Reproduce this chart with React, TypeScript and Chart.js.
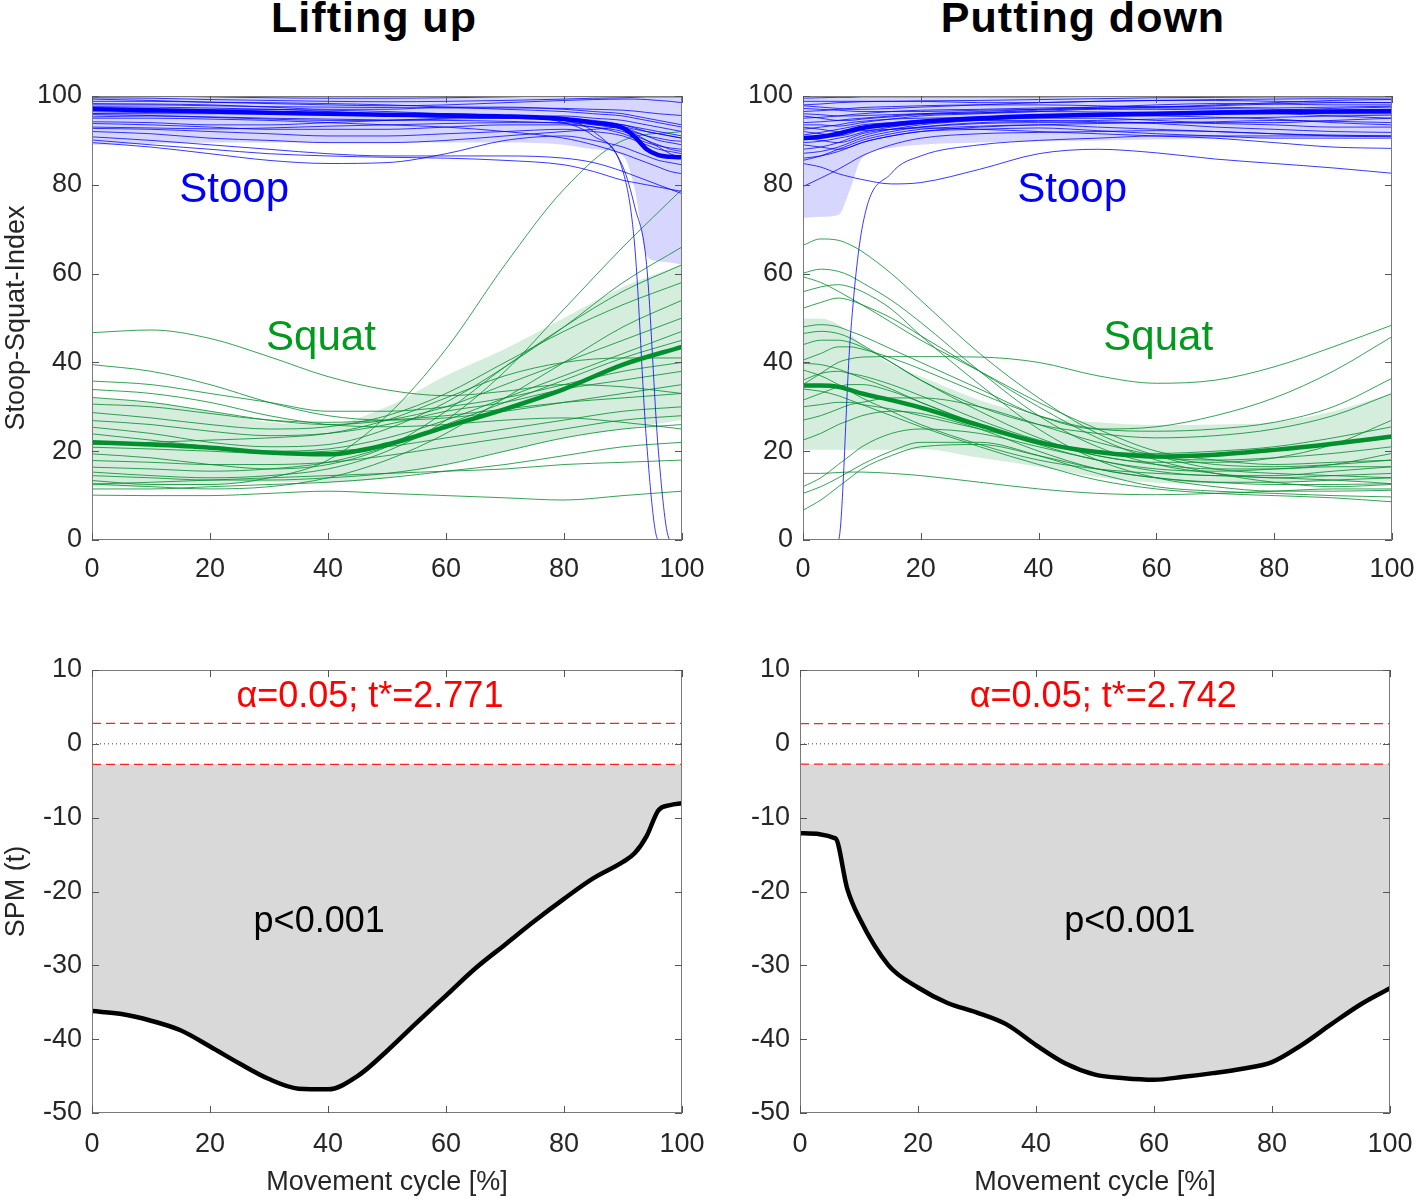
import React, { useEffect, useRef } from 'react';
import Chart from 'chart.js/auto';

const FONT = "'Liberation Sans', Arial, Helvetica, sans-serif";

// ---------------- Titles / labels ----------------
const panelTitles = ['Lifting up', 'Putting down'];
const yTitleTop = 'Stoop-Squat-Index';
const yTitleBottom = 'SPM (t)';
const xTitleBottom = 'Movement cycle [%]';

// ---------------- Lifting up: Stoop (blue) ----------------
const xLiftStoop = [0, 10, 20, 30, 40, 50, 60, 70, 80, 85, 90, 92, 94, 96, 98, 100];
const liftStoopMean = [97, 96.8, 96.5, 96.2, 96, 95.8, 95.6, 95.4, 94.8, 94, 92.8, 90.8, 88, 86.7, 86.3, 86.2];
const liftStoopUpper = [105, 104.4, 103.5, 102.9, 102.5, 102.1, 101.7, 101.3, 100.6, 100.5, 100.6, 103.6, 110, 110.4, 110.1, 110.4];
const liftStoopLower = [89, 89.2, 89.5, 89.5, 89.5, 89.5, 89.5, 89.5, 89, 88, 86.5, 79, 64, 62.8, 62.5, 62];
const liftStoopTrials = [
  [100, 100, 99.8, 99.6, 99.5, 99.5, 99.6, 99.8, 100, 100, 100, 100, 100, 100, 100, 100],
  [99.3, 99, 98.6, 98.3, 98, 97.8, 98, 98.5, 99, 99.2, 99.3, 99.3, 99.2, 99, 98.8, 98.5],
  [98.3, 98.2, 98, 97.5, 97, 97, 97.5, 97.5, 97, 96.5, 96, 95.5, 95, 94.5, 94, 93.5],
  [97.6, 97.5, 97.3, 97, 96.8, 96.5, 96, 95.5, 95, 94.5, 93.5, 92.8, 92, 91.5, 91, 90.5],
  [96.1, 96.3, 96.5, 96.3, 96, 95.8, 95.5, 95.3, 95, 94, 92.5, 91.5, 90, 89, 88, 87.5],
  [95.3, 95.5, 95.2, 94.8, 94.5, 94.5, 94.8, 95, 94.8, 94, 93, 92, 91, 90, 89.5, 89],
  [94.2, 94, 93.5, 93.5, 94, 94.5, 95, 95.5, 95.5, 95, 94.5, 94, 93.5, 93, 92.5, 92],
  [93.8, 93.5, 93, 92.5, 92.5, 92.5, 93, 93.5, 93.5, 93, 92, 91, 90, 88.5, 87, 86],
  [92.7, 92.5, 92, 91.5, 91, 91, 91.5, 92, 92.5, 92, 91, 90, 89, 88, 87.5, 87],
  [92, 91.5, 90.5, 90, 89.5, 89.5, 90, 91, 92, 92.5, 93, 92.5, 92, 91.5, 91, 90.5],
  [90.8, 90, 89, 88, 87, 86.5, 86.5, 86.5, 86, 85, 83, 82, 81, 80, 79, 78],
  [90.1, 89, 88, 87, 86.5, 86.2, 86, 85.5, 84.5, 83, 81, 80.5, 80, 79.5, 79, 78.5],
  [89.5, 88.5, 87, 85.5, 84.8, 85, 87, 90, 91, 90, 88.5, 87.5, 86.5, 85.5, 85, 84.5],
  [96.8, 97, 96.8, 96.5, 96, 95.5, 95.2, 95, 94.5, 94, 93.5, 93, 92.5, 92, 91.5, 91],
  [98.8, 98.8, 98.6, 98.5, 98.3, 98, 97.5, 97, 96.5, 96, 95.5, 95, 94.5, 94, 93.5, 93],
  [97, 97, 97, 97, 96.5, 96, 96, 95.5, 94, 91, 83, 66, 22, 0, 0, 0],
  [96, 96, 96, 96, 96, 95.5, 95.5, 95.5, 94.5, 92, 84, 75, 62, 20, 0, 0],
  [95, 95, 94.8, 94.5, 94, 93.5, 93, 92, 90.5, 89, 87, 86, 85, 84, 83, 82.5],
  [99.6, 99.5, 99.2, 99, 98.8, 98.7, 98.8, 99, 99.3, 99.5, 99.6, 99.7, 99.8, 99.8, 99.8, 99.8],
  [98, 98, 97.8, 97.6, 97.5, 97.4, 97.3, 97.3, 97.2, 97, 96.8, 96.6, 96.3, 96, 95.8, 95.6],
  [95.8, 95.6, 95.3, 95, 94.8, 94.6, 94.5, 94.3, 93.8, 93, 91.5, 90.5, 89.5, 88.8, 88.3, 88],
  [93, 92.8, 92.6, 92.8, 93.2, 93.5, 93.8, 94, 94, 93.5, 92.5, 91.8, 91, 90.5, 90, 89.8],
];

// ---------------- Lifting up: Squat (green) ----------------
const xLiftSquat = [0, 10, 20, 30, 40, 50, 60, 70, 80, 90, 100];
const liftSquatMean = [22, 21.5, 20.8, 19.7, 19.3, 21.5, 25.5, 29.5, 34, 39.5, 43.5];
const liftSquatUpper = [32, 31, 29, 26.5, 26, 30, 37, 43, 50, 57, 62];
const liftSquatLower = [12, 12, 12.5, 13, 13, 14, 17, 20, 23, 25, 27];
const liftSquatTrials = [
  [46.7, 47.3, 45.4, 41.3, 36.8, 33.8, 32.5, 33.5, 35, 34.5, 33],
  [13.4, 12.5, 12.5, 14, 18, 28, 43, 62, 79, 90, 92],
  [15.3, 14.5, 14, 14.5, 16, 20, 27, 38, 52, 66, 79],
  [25.4, 24, 22, 21, 21.5, 25, 31, 39, 48, 58, 66],
  [19.4, 18.5, 17, 16, 17, 21, 29, 39, 48, 56, 62],
  [28.7, 27.5, 26, 25, 25.5, 28, 33, 40, 47, 53, 58],
  [12.6, 12, 11.5, 12, 14, 18, 24, 32, 40, 48, 54],
  [32.1, 31, 29, 27, 26, 27, 30, 35, 40, 45, 50],
  [23.9, 22.5, 21, 20, 20.5, 23, 27, 32, 37, 42, 47],
  [16.4, 16, 15.5, 16, 17.5, 21, 26, 31, 36, 41, 45],
  [35.8, 35, 33, 31, 29, 29, 30, 32, 35, 38, 40],
  [26.9, 26, 24.5, 23.5, 24, 26, 29, 31, 34, 36, 38],
  [39.5, 38, 35, 31, 28, 27, 27.5, 29, 31, 33, 35],
  [30.6, 30, 28.5, 27, 26.5, 27, 28, 29.5, 31, 32, 33],
  [20.9, 20.5, 20, 19.5, 20, 21, 23, 25, 27, 29, 30],
  [17.9, 17.5, 17, 17, 17.5, 19, 21, 23, 25, 27, 28],
  [11.5, 11.5, 12, 12.5, 13, 14, 15.5, 17, 19, 21, 22],
  [10.1, 10, 10, 10.5, 11, 10.5, 10, 9.5, 9, 10, 11],
  [33.9, 33, 31, 28, 26, 25.5, 26, 27, 27.5, 26.5, 25],
  [12.6, 13, 13.5, 14, 14.5, 15, 15.5, 16, 17, 17.5, 18],
  [21.5, 22, 22.5, 23, 24, 27, 32, 37, 40, 41, 41],
  [14.5, 14, 13.5, 13.5, 14, 15, 17, 20, 23, 25, 26],
];

// ---------------- Putting down: Stoop (blue) ----------------
const xPut = [0, 3, 6, 8, 10, 15, 20, 30, 40, 50, 60, 70, 80, 90, 100];
const putStoopMean = [90.5, 90.8, 91.5, 92.2, 92.8, 93.6, 94.2, 95, 95.5, 95.8, 96, 96.2, 96.4, 96.5, 96.6];
const putStoopUpper = [108.5, 108.8, 109.8, 105.4, 100.6, 100.6, 100.6, 100.8, 101.2, 101.6, 101.8, 102.1, 102.3, 102.4, 102.4];
const putStoopLower = [72.5, 72.8, 73.2, 79, 86, 88.3, 89, 89.5, 89.8, 90, 90.2, 90.3, 90.5, 90.6, 90.8];
const putStoopTrials = [
  [99.5, 99.6, 99.7, 99.7, 99.8, 99.8, 99.8, 99.8, 99.8, 99.9, 99.9, 99.9, 99.9, 99.9, 99.9],
  [98, 98.2, 98.5, 98.6, 98.7, 98.8, 98.8, 98.5, 98.5, 98.8, 99, 99.2, 99.3, 99.4, 99.3],
  [96.5, 96.7, 97, 97.2, 97.4, 97.6, 97.8, 98, 98, 97.8, 97.5, 97.8, 98.2, 98.5, 98.5],
  [95, 95.2, 95.5, 95.8, 96, 96.5, 96.8, 97, 97.3, 97.5, 97.6, 97.5, 97.3, 97.5, 97.7],
  [93.5, 93.5, 93.2, 93.5, 94, 94.8, 95.5, 96, 96.5, 97, 97, 96.8, 96.5, 96.5, 96.5],
  [92, 91.5, 91, 91.5, 92.5, 93.5, 94, 94.8, 95.3, 95.5, 95.8, 96, 96, 95.5, 95],
  [90.5, 90, 89.5, 90, 91, 92.5, 93.5, 94.5, 95, 95, 94.5, 94, 94, 94.5, 95],
  [89, 88.5, 88, 88.5, 89.5, 91, 92, 93, 93.5, 93.8, 94, 93.8, 93.5, 93, 93],
  [87.1, 87.5, 88.5, 89.5, 90.5, 92, 93, 94, 94.3, 94.5, 94.8, 95, 95.2, 95.5, 95.7],
  [85.5, 86.5, 88, 89, 90, 91.5, 92.5, 93.2, 93.5, 93, 92.5, 92, 91.5, 91, 90.8],
  [84.8, 84, 82.5, 81.8, 81.2, 80.2, 80.5, 83.5, 87, 88, 87.2, 85.8, 84.8, 83.8, 82.6],
  [79.6, 81.5, 83.5, 85, 86.5, 89, 90.5, 91.5, 91.8, 92, 92.2, 92, 91.5, 91.2, 91],
  [0, 0, 0, 45, 70, 82.6, 86.5, 89, 90, 90.5, 91, 91, 91, 91, 91],
  [97.2, 97, 96.8, 96.6, 96.5, 96.5, 96.5, 96.8, 97, 97.2, 97.5, 98, 98.5, 99, 99.2],
  [94, 94.2, 94.5, 94.8, 95, 95.5, 96, 96.2, 96.5, 96.4, 96.3, 96.5, 96.8, 97.2, 97.5],
  [91.2, 91.8, 92.5, 93, 93.5, 94, 94.5, 95, 95.2, 95.5, 95.5, 95.2, 94.8, 94, 93.5],
  [88, 88.5, 89.5, 90.5, 91.5, 92.5, 93, 93.8, 94, 94, 93.8, 93, 92.5, 92, 91.8],
  [98.8, 98.8, 98.8, 98.8, 98.8, 98.8, 98.9, 99, 99.2, 99.4, 99.6, 99.7, 99.8, 99.8, 99.8],
  [96, 95.8, 95.5, 95.5, 95.6, 95.8, 96, 96.5, 97, 97.5, 98, 98.3, 98.2, 98, 98],
  [86, 86.5, 87.5, 88.5, 89.5, 91, 92, 92.5, 92.8, 92.2, 91.5, 91, 90.5, 90.5, 90.5],
  [93, 92.5, 92, 92, 92.2, 92.5, 92.8, 92.5, 92, 91.5, 91, 90.5, 89.5, 88.5, 88.2],
  [97.8, 97.5, 97.2, 97, 97, 97.2, 97.5, 98, 98.5, 98.8, 99, 99, 98.8, 98.6, 98.5],
  [95.5, 95, 94.5, 94.5, 94.8, 95.3, 95.8, 96.2, 96.8, 97.2, 97.3, 97.2, 97, 96.8, 96.8],
  [92.5, 93, 93.5, 94, 94.3, 94.8, 95, 95.2, 95.6, 96, 96.3, 96.5, 96.2, 96, 96],
  [89.5, 89.8, 90.5, 91, 91.8, 93, 93.8, 94.5, 94.5, 94.2, 94, 94.2, 94.5, 94.3, 94],
];

// ---------------- Putting down: Squat (green) ----------------
const putSquatMean = [34.8, 34.8, 34.5, 33.8, 33, 31.5, 29.8, 25.8, 22, 19.8, 18.8, 19.2, 20.3, 21.7, 23.3];
const putSquatUpper = [49.9, 49.9, 48.5, 46.5, 44, 39.5, 36.8, 31.5, 28, 26.5, 25.9, 26, 26.5, 29, 33];
const putSquatLower = [20.3, 20.3, 20.3, 20.3, 20.3, 20.3, 20.5, 18.5, 16.5, 14.2, 12.9, 12.7, 12.9, 13.2, 13.1];
const putSquatTrials = [
  [66.4, 67.8, 67.5, 66.5, 65, 60, 54, 42, 32, 24, 19, 16, 15, 14.5, 14],
  [60.1, 61, 60.5, 59.5, 58, 54, 49, 38, 28, 21, 17, 15, 14, 14.5, 15],
  [59.3, 58, 56, 54.5, 53, 49, 45, 38, 31, 25, 20, 18, 17, 17.5, 18],
  [55.9, 57, 57.5, 57, 56, 52, 46, 35, 25, 18, 14, 12, 11, 11, 11.2],
  [52.2, 53.5, 54.5, 54, 53, 50, 46, 38, 30, 23, 18, 15, 13, 12, 12.5],
  [35, 37.5, 40, 40.8, 41.2, 41.3, 41.3, 41.2, 40, 37, 35.3, 36, 39, 43.5, 48.4],
  [48, 48.5, 48, 47, 46, 43, 40, 34, 28, 25, 25.5, 28, 32, 38, 45.8],
  [46.5, 47, 46.5, 45.5, 44, 40, 36, 30, 26, 24, 23, 23.5, 25, 28, 33],
  [40.5, 42, 43.5, 43.5, 43, 41, 38.5, 33, 28, 25, 24.5, 25, 26.5, 30, 36.4],
  [39.8, 39.5, 38.5, 37.5, 36.5, 34, 31, 26, 22, 19, 17, 16, 16, 16.5, 16.5],
  [38.3, 37, 35, 33.5, 32, 29, 26, 21.5, 18, 16, 15, 14.5, 14, 13.5, 12.7],
  [36, 37.5, 38, 37.5, 37, 35, 32.5, 27, 22.5, 20, 19.5, 20, 21, 23, 25.5],
  [31.5, 33, 34.5, 35, 35, 33.5, 31, 26, 21.5, 18, 16, 15.5, 16, 17, 19.5],
  [30, 30.5, 31, 31, 30.5, 29.5, 28, 25, 22, 20, 18.5, 18, 18.5, 19.5, 21],
  [27, 28, 29.5, 30.5, 31, 32, 32, 30, 26, 22, 19, 17, 16.5, 17, 18],
  [22.5, 24, 26, 27, 28, 29, 28.5, 25, 20, 16, 14, 13, 13, 13.5, 14],
  [12, 14, 17, 19, 21, 24, 25, 24, 21, 18, 15.5, 14.5, 14.5, 15.5, 16.5],
  [10.5, 12, 14, 15.5, 17, 20, 22, 22, 19, 15, 12, 11, 10.5, 10, 9.7],
  [6.7, 9, 12, 14, 16, 19, 21, 21.5, 19, 16, 14, 13, 12.5, 12.5, 12.7],
  [15, 15, 15.2, 15.3, 15.3, 15, 14.5, 13, 11.5, 10.5, 10.2, 10.5, 11, 11.5, 11.5],
  [34, 33.5, 32.5, 31.5, 30.5, 28, 25.5, 21, 17, 13.5, 11.5, 10.5, 10, 9.5, 8.6],
  [44, 45, 45, 44.5, 43.5, 40, 36, 29, 23, 19, 17.5, 17.5, 18.5, 21.5, 27],
];

// ---------------- SPM {t} ----------------
const tStarLift = 2.771;
const tStarPut = 2.742;
const alphaLabelLift = 'α=0.05; t*=2.771';
const alphaLabelPut = 'α=0.05; t*=2.742';
const pLabel = 'p<0.001';
const xSpmLift = [0, 5, 10, 15, 20, 25, 30, 35, 40, 45, 50, 55, 60, 65, 70, 75, 80, 85, 90, 92, 94, 96, 98, 100];
const spmLift = [-36.2, -36.6, -37.5, -38.8, -41, -43.3, -45.4, -46.7, -46.8, -45, -41.6, -37.8, -34.1, -30.4, -27.2, -24, -21, -18.2, -16, -14.8, -12.5, -9, -8.3, -8.05];
const xSpmPut = [0, 6, 8, 10, 15, 20, 25, 30, 35, 40, 45, 50, 55, 60, 65, 70, 75, 80, 85, 90, 95, 100];
const spmPut = [-12.1, -12.8, -19.6, -23.5, -30, -33, -35.1, -36.4, -38, -40.8, -43.3, -44.8, -45.3, -45.5, -45.1, -44.6, -44, -43.1, -40.8, -38, -35.3, -33.1];

// ---------------- styles ----------------
const BLUE = '#0000ff';
const BLUE_TRIAL = 'rgba(0,0,255,0.78)';
const BLUE_BAND = 'rgba(0,0,255,0.16)';
const GREEN = '#00912e';
const GREEN_TEXT = '#009a1c';
const GREEN_TRIAL = 'rgba(0,140,45,0.8)';
const GREEN_BAND = 'rgba(0,150,50,0.17)';
const TICK_COLOR = '#262626';

const pts = (xs: number[], ys: number[]) => ys.map((y, i) => ({ x: xs[i], y }));

const lineBase = { pointRadius: 0, cubicInterpolationMode: 'monotone' as const, fill: false };

function bandSets(xs: number[], up: number[], lo: number[], color: string) {
  return [
    { ...lineBase, data: pts(xs, up), borderWidth: 0, borderColor: 'transparent', backgroundColor: color, fill: '+1', order: 5 },
    { ...lineBase, data: pts(xs, lo), borderWidth: 0, borderColor: 'transparent', order: 5 },
  ];
}

function topDatasets(xb: number[], bTr: number[][], bMean: number[], bUp: number[], bLo: number[],
  xg: number[], gTr: number[][], gMean: number[], gUp: number[], gLo: number[]) {
  const ds: any[] = [];
  ds.push(...bandSets(xb, bUp, bLo, BLUE_BAND));
  ds.push(...bandSets(xg, gUp, gLo, GREEN_BAND));
  gTr.forEach(t => ds.push({ ...lineBase, data: pts(xg, t), borderColor: GREEN_TRIAL, borderWidth: 1, order: 3 }));
  bTr.forEach(t => ds.push({ ...lineBase, data: pts(xb, t), borderColor: BLUE_TRIAL, borderWidth: 1, order: 2 }));
  ds.push({ ...lineBase, data: pts(xg, gMean), borderColor: GREEN, borderWidth: 4.5, order: 1 });
  ds.push({ ...lineBase, data: pts(xb, bMean), borderColor: BLUE, borderWidth: 4.5, order: 0 });
  return ds;
}

function spmDatasets(xs: number[], t: number[], tStar: number) {
  return [
    { ...lineBase, data: pts(xs, t), borderColor: '#000', borderWidth: 4.5, backgroundColor: '#d9d9d9', fill: { value: -tStar }, order: 2 },
    { ...lineBase, data: [{ x: 0, y: 0 }, { x: 100, y: 0 }], borderColor: '#444', borderWidth: 1, borderDash: [1, 3], order: 1 },
    { ...lineBase, data: [{ x: 0, y: tStar }, { x: 100, y: tStar }], borderColor: '#ff2020', borderWidth: 1.3, borderDash: [9, 5], order: 0 },
    { ...lineBase, data: [{ x: 0, y: -tStar }, { x: 100, y: -tStar }], borderColor: '#ff2020', borderWidth: 1.3, borderDash: [9, 5], order: 0 },
  ];
}

const decoPlugin = {
  id: 'deco',
  afterDatasetsDraw(chart: any, _args: any, opts: any) {
    const { ctx, chartArea: a, scales } = chart;
    ctx.save();
    (opts.texts || []).forEach((t: any) => {
      ctx.font = `${t.size}px ${FONT}`;
      ctx.fillStyle = t.color;
      ctx.textAlign = 'center';
      ctx.textBaseline = 'middle';
      ctx.fillText(t.text, scales.x.getPixelForValue(t.x), scales.y.getPixelForValue(t.y));
    });
    ctx.strokeStyle = '#7a7a7a';
    ctx.lineWidth = 1;
    ctx.strokeRect(Math.round(a.left) + 0.5, Math.round(a.top) + 0.5, Math.round(a.width) - 1, Math.round(a.height) - 1);
    const L = 7;
    ctx.strokeStyle = '#555';
    ctx.beginPath();
    scales.x.ticks.forEach((tk: any) => {
      const p = Math.round(scales.x.getPixelForValue(tk.value)) + 0.5;
      ctx.moveTo(p, a.bottom); ctx.lineTo(p, a.bottom - L);
      ctx.moveTo(p, a.top); ctx.lineTo(p, a.top + L);
    });
    scales.y.ticks.forEach((tk: any) => {
      const p = Math.round(scales.y.getPixelForValue(tk.value)) + 0.5;
      ctx.moveTo(a.left, p); ctx.lineTo(a.left + L, p);
      ctx.moveTo(a.right, p); ctx.lineTo(a.right - L, p);
    });
    ctx.stroke();
    ctx.restore();
  },
};

type PanelCfg = {
  left: number; top: number; w: number; h: number;
  area: { l: number; t: number; r: number; b: number };
  xH: number; yMin: number; yMax: number; yStep: number;
  yTitle?: string; xTitle?: string; xTitlePadBottom?: number; xLabelOffset: number;
  datasets: any[]; texts: any[];
};

function buildConfig(c: PanelCfg): any {
  const yW = c.area.l - c.left;
  const padTop = c.area.t - c.top;
  const padRight = c.left + c.w - c.area.r;
  const padBottom = c.top + c.h - c.area.b - c.xH;
  const tickFont = { family: FONT, size: 27 };
  // x labels: centre sits xLabelOffset px below the axis (line height trick, no padding)
  const xTickFont = { family: FONT, size: 27, lineHeight: (2 * c.xLabelOffset) / 27 };
  return {
    type: 'line',
    data: { datasets: c.datasets },
    plugins: [decoPlugin],
    options: {
      responsive: false,
      animation: false,
      devicePixelRatio: 1,
      layout: { padding: { left: 0, top: padTop, right: padRight, bottom: padBottom } },
      plugins: { legend: { display: false }, tooltip: { enabled: false }, deco: { texts: c.texts } },
      scales: {
        x: {
          type: 'linear', min: 0, max: 100,
          afterFit: (s: any) => { s.height = c.xH; },
          grid: { display: false, drawTicks: false }, border: { display: false },
          ticks: { stepSize: 20, padding: 0, font: xTickFont, color: TICK_COLOR, maxRotation: 0, autoSkip: false },
          title: c.xTitle ? { display: true, text: c.xTitle, font: tickFont, color: TICK_COLOR, padding: { top: 0, bottom: c.xTitlePadBottom || 0 } } : { display: false },
        },
        y: {
          type: 'linear', min: c.yMin, max: c.yMax,
          afterFit: (s: any) => { s.width = yW; },
          grid: { display: false, drawTicks: false }, border: { display: false },
          ticks: { stepSize: c.yStep, padding: 10, font: tickFont, color: TICK_COLOR, autoSkip: false },
          title: c.yTitle ? { display: true, text: c.yTitle, font: tickFont, color: TICK_COLOR, padding: { top: 0, bottom: 0 } } : { display: false },
        },
      },
    },
  };
}

function Panel({ cfg }: { cfg: PanelCfg }) {
  const ref = useRef<HTMLCanvasElement>(null);
  useEffect(() => {
    const chart = new Chart(ref.current as HTMLCanvasElement, buildConfig(cfg));
    return () => chart.destroy();
  }, []);
  return (
    <canvas ref={ref} width={cfg.w} height={cfg.h}
      style={{ position: 'absolute', left: cfg.left, top: cfg.top, width: cfg.w, height: cfg.h, display: 'block' }} />
  );
}

const panels: PanelCfg[] = [
  {
    left: 0, top: 60, w: 709, h: 560, area: { l: 92, t: 96, r: 682, b: 540 }, xH: 60,
    yMin: 0, yMax: 100, yStep: 20, yTitle: yTitleTop, xLabelOffset: 30,
    datasets: topDatasets(xLiftStoop, liftStoopTrials, liftStoopMean, liftStoopUpper, liftStoopLower,
      xLiftSquat, liftSquatTrials, liftSquatMean, liftSquatUpper, liftSquatLower),
    texts: [
      { text: 'Stoop', x: 24.1, y: 78.8, color: BLUE, size: 42 },
      { text: 'Squat', x: 38.8, y: 45.4, color: GREEN_TEXT, size: 42 },
    ],
  },
  {
    left: 709, top: 60, w: 709, h: 560, area: { l: 803, t: 96, r: 1392, b: 540 }, xH: 60,
    yMin: 0, yMax: 100, yStep: 20, xLabelOffset: 30,
    datasets: topDatasets(xPut, putStoopTrials, putStoopMean, putStoopUpper, putStoopLower,
      xPut, putSquatTrials, putSquatMean, putSquatUpper, putSquatLower),
    texts: [
      { text: 'Stoop', x: 45.7, y: 78.8, color: BLUE, size: 42 },
      { text: 'Squat', x: 60.3, y: 45.4, color: GREEN_TEXT, size: 42 },
    ],
  },
  {
    left: 0, top: 630, w: 709, h: 569, area: { l: 92, t: 670, r: 682, b: 1113 }, xH: 86,
    yMin: -50, yMax: 10, yStep: 10, yTitle: yTitleBottom, xTitle: xTitleBottom, xTitlePadBottom: 0, xLabelOffset: 32,
    datasets: spmDatasets(xSpmLift, spmLift, tStarLift),
    texts: [
      { text: alphaLabelLift, x: 47.1, y: 6.4, color: '#ff0000', size: 36 },
      { text: pLabel, x: 38.5, y: -24.1, color: '#000', size: 36 },
    ],
  },
  {
    left: 709, top: 630, w: 709, h: 569, area: { l: 800, t: 670, r: 1390, b: 1113 }, xH: 86,
    yMin: -50, yMax: 10, yStep: 10, xTitle: xTitleBottom, xTitlePadBottom: 0, xLabelOffset: 32,
    datasets: spmDatasets(xSpmPut, spmPut, tStarPut),
    texts: [
      { text: alphaLabelPut, x: 51.4, y: 6.4, color: '#ff0000', size: 36 },
      { text: pLabel, x: 55.9, y: -24.1, color: '#000', size: 36 },
    ],
  },
];

export default function App() {
  const titleStyle = (cx: number): React.CSSProperties => ({
    position: 'absolute', left: cx - 250, top: -4, width: 500, textAlign: 'center',
    font: `bold 43px ${FONT}`, lineHeight: '43px', letterSpacing: '1px', color: '#000',
  });
  return (
    <div style={{ position: 'absolute', left: 0, top: 0, width: 1418, height: 1199, background: '#fff', overflow: 'hidden' }}>
      <div style={titleStyle(374)}>{panelTitles[0]}</div>
      <div style={titleStyle(1083)}>{panelTitles[1]}</div>
      {panels.map((p, i) => <Panel key={i} cfg={p} />)}
    </div>
  );
}
